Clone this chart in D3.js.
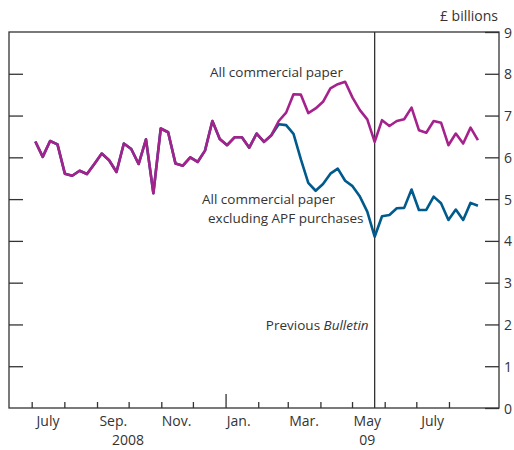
<!DOCTYPE html>
<html>
<head>
<meta charset="utf-8">
<script src="https://cdn.jsdelivr.net/npm/d3@7"></script>
<style>
  body { margin: 0; background: #fff; }
  text { font-family: "Open Sans", sans-serif; fill: #333; }
</style>
</head>
<body>
<div id="chart"></div>
<script>
// weekly observations, first one on 4 July 2008
var firstDate = new Date(2008, 6, 4);

// All commercial paper (£ billions)
var allPaper = [6.38, 6.01, 6.39, 6.31, 5.61, 5.56, 5.68, 5.60, 5.84, 6.09,
  5.93, 5.65, 6.33, 6.20, 5.84, 6.43, 5.14, 6.69, 6.60, 5.85,
  5.80, 6.00, 5.89, 6.16, 6.87, 6.44, 6.29, 6.48, 6.48, 6.23,
  6.57, 6.37, 6.53, 6.87, 7.07, 7.51, 7.50, 7.06, 7.17, 7.33,
  7.65, 7.75, 7.81, 7.43, 7.13, 6.91, 6.37, 6.89, 6.75, 6.87,
  6.91, 7.19, 6.65, 6.59, 6.87, 6.83, 6.29, 6.57, 6.33, 6.71, 6.41];

// All commercial paper excluding APF purchases (£ billions)
var exclAPF = [6.38, 6.01, 6.39, 6.31, 5.61, 5.56, 5.68, 5.60, 5.84, 6.09,
  5.93, 5.65, 6.33, 6.20, 5.84, 6.43, 5.14, 6.69, 6.60, 5.85,
  5.80, 6.00, 5.89, 6.16, 6.87, 6.44, 6.29, 6.48, 6.48, 6.23,
  6.57, 6.37, 6.53, 6.79, 6.77, 6.56, 5.95, 5.39, 5.20, 5.36,
  5.61, 5.73, 5.44, 5.31, 5.06, 4.70, 4.10, 4.59, 4.62, 4.78,
  4.79, 5.23, 4.74, 4.74, 5.06, 4.90, 4.50, 4.75, 4.50, 4.91, 4.84];

var yTicks = [0, 1, 2, 3, 4, 5, 6, 7, 8, 9];
var monthLabels = [
  {date: new Date(2008, 6, 16), label: "July"},
  {date: new Date(2008, 8, 16), label: "Sep."},
  {date: new Date(2008, 10, 15), label: "Nov."},
  {date: new Date(2009, 0, 13), label: "Jan."},
  {date: new Date(2009, 2, 16), label: "Mar."},
  {date: new Date(2009, 4, 15), label: "May"},
  {date: new Date(2009, 6, 16), label: "July"}
];
var yearLabels = [
  {date: new Date(2008, 8, 30), label: "2008"},
  {date: new Date(2009, 4, 15), label: "09"}
];
var previousBulletin = new Date(2009, 4, 22);

var dates = allPaper.map((d, i) => d3.timeDay.offset(firstDate, 7 * i));

var svgWidth = 514;
var svgHeight = 450;
var margin = {top: 32, right: 15, bottom: 42, left: 9};
var chartWidth = svgWidth - margin.left - margin.right;
var chartHeight = svgHeight - margin.top - margin.bottom;

var svg = d3.select("#chart")
    .append("svg")
    .attr("width", svgWidth)
    .attr("height", svgHeight);

var chart = svg.append("g")
    .attr("transform", `translate(${margin.left}, ${margin.top})`);

var xScale = d3.scaleTime()
    .domain([new Date(2008, 5, 9), new Date(2009, 8, 17)])
    .range([0, chartWidth]);

var yScale = d3.scaleLinear()
    .domain([0, 9])
    .range([chartHeight, 0]);

// y ticks, inside on both sides, numbers on the right
var yRight = d3.axisRight(yScale).tickValues(yTicks).tickSize(14).tickPadding(5);
chart.append("g")
    .attr("transform", `translate(${chartWidth - 14}, 0)`)
    .call(yRight)
    .call(g => g.select(".domain").remove())
    .call(g => g.selectAll("line").attr("stroke", "#333").attr("stroke-width", 1.3))
    .call(g => g.selectAll("text").attr("x", 19).attr("dy", "0.36em")
        .style("font-size", "14px").style("fill", "#333"));

chart.append("g")
    .call(d3.axisLeft(yScale).tickValues(yTicks.slice(1, -1)).tickSize(-14).tickFormat(""))
    .call(g => g.select(".domain").remove())
    .call(g => g.selectAll("line").attr("stroke", "#333").attr("stroke-width", 1.3));

// month ticks along the bottom
var months = d3.timeMonth.range(new Date(2008, 6, 1), new Date(2009, 7, 2));
chart.append("g").selectAll("line")
    .data(months)
    .enter()
    .append("line")
    .attr("x1", d => xScale(d))
    .attr("x2", d => xScale(d))
    .attr("y1", chartHeight)
    .attr("y2", d => d.getMonth() == 0 ? chartHeight - 14 : chartHeight - 6)
    .attr("stroke", "#333")
    .attr("stroke-width", 1.3);

chart.append("g").selectAll("text")
    .data(monthLabels)
    .enter()
    .append("text")
    .attr("x", d => xScale(d.date))
    .attr("y", chartHeight + 18)
    .attr("text-anchor", "middle")
    .style("font-size", "14px")
    .text(d => d.label);

chart.append("g").selectAll("text")
    .data(yearLabels)
    .enter()
    .append("text")
    .attr("x", d => xScale(d.date))
    .attr("y", chartHeight + 37)
    .attr("text-anchor", "middle")
    .style("font-size", "14px")
    .text(d => d.label);

// units label
chart.append("text")
    .attr("x", chartWidth - 1)
    .attr("y", -11)
    .attr("text-anchor", "end")
    .style("font-size", "14px")
    .text("£ billions");

// Previous Bulletin marker
chart.append("line")
    .attr("x1", xScale(previousBulletin))
    .attr("x2", xScale(previousBulletin))
    .attr("y1", 0)
    .attr("y2", chartHeight)
    .attr("stroke", "#333")
    .attr("stroke-width", 1.3);

var pb = chart.append("text")
    .attr("x", xScale(previousBulletin) - 6)
    .attr("y", yScale(2) + 6)
    .attr("text-anchor", "end")
    .style("font-size", "13.5px");
pb.append("tspan").text("Previous ");
pb.append("tspan").style("font-style", "italic").text("Bulletin");

// lines
var line = d3.line()
    .x((d, i) => xScale(dates[i]))
    .y(d => yScale(d));

chart.append("path")
    .datum(exclAPF)
    .attr("fill", "none")
    .attr("stroke", "#005a8c")
    .attr("stroke-width", 2.6)
    .attr("stroke-linejoin", "round")
    .attr("d", line);

chart.append("path")
    .datum(allPaper)
    .attr("fill", "none")
    .attr("stroke", "#a5228d")
    .attr("stroke-width", 2.6)
    .attr("stroke-linejoin", "round")
    .attr("d", line);

// series labels
chart.append("text")
    .attr("x", 201)
    .attr("y", yScale(8) + 3)
    .style("font-size", "13.5px")
    .text("All commercial paper");

chart.append("text")
    .attr("x", 193)
    .attr("y", 172)
    .style("font-size", "13.5px")
    .text("All commercial paper");

chart.append("text")
    .attr("x", 199)
    .attr("y", 191)
    .style("font-size", "13.5px")
    .text("excluding APF purchases");

// frame
chart.append("rect")
    .attr("width", chartWidth)
    .attr("height", chartHeight)
    .attr("fill", "none")
    .attr("stroke", "#333")
    .attr("stroke-width", 1.3);
</script>
</body>
</html>
